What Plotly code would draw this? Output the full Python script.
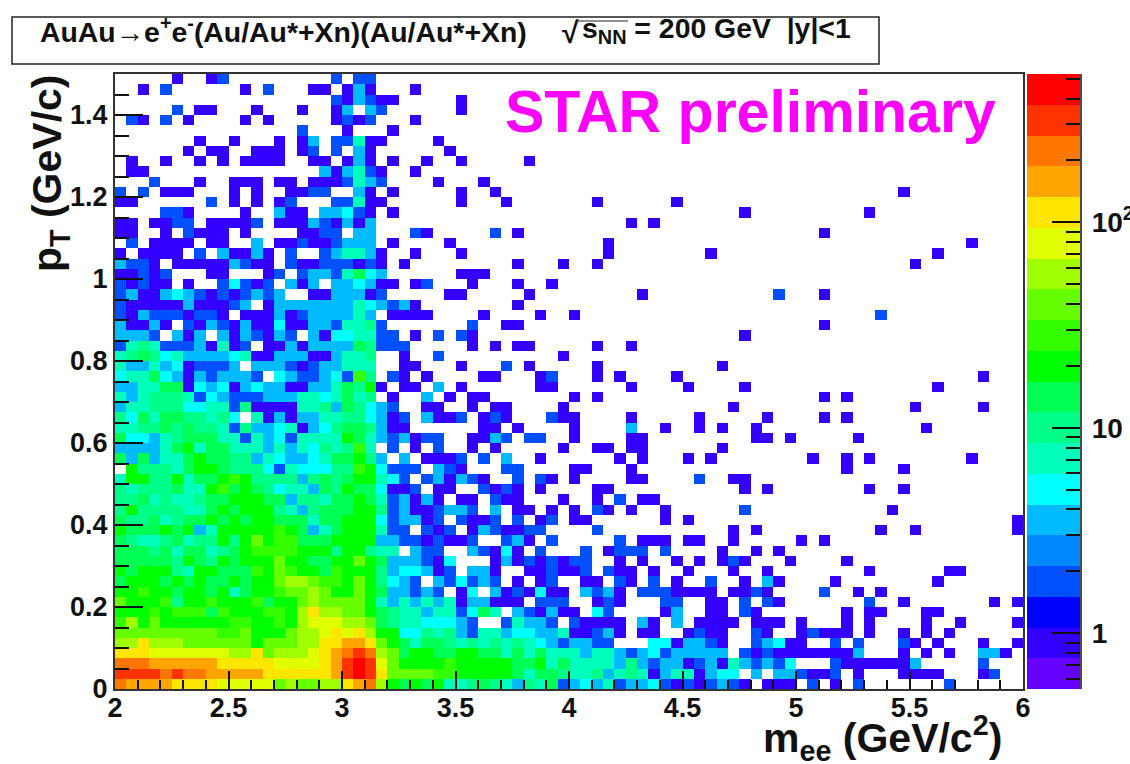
import math
import numpy as np
import plotly.graph_objects as go

# Histogram bins
N_X, N_Y = 80, 60
X_LOW, X_HIGH = 2.0, 6.0
Y_LOW, Y_HIGH = 0.0, 1.5

# Read-off counts per cell: code -> estimated count
CODE_COUNTS = {'1': 1, '2': 2, '3': 3.5, '4': 5, '5': 7, '6': 10, '7': 14, '8': 20, '9': 28,
               'a': 40, 'b': 56, 'c': 79, 'd': 112, 'e': 158, 'f': 224, 'g': 316, 'h': 447}

# One entry per pT row, top row first. "col:codes" runs; '.' means an empty cell.
ROWS = [
 "5:1 8:12 19:2 21:22",
 "2:1 4:2 11:1 13:2 17:11 20:131 26:1",
 "19:213211 30:1",
 "5:2 7:11 12:1 16:1 19:13.32 30:1",
 "1:21 4:2 6:1 11:1 13:1 19:1212 26:1",
 "16:2 20:1 24:1",
 "7:1 10:1 14:1 16:13 19:22511 28:1",
 "6:1 8:11 12:111 16:12 19:2.31 29:1",
 "1:1 4:1 7:1 9:1 11:1111 17:11 20:131 24:1 27:1 30:1 36:1",
 "1:11 18:313521 26:1",
 "3:2 7:1 10:111 14:11 17:111 20:2532 28:1 32:1",
 "0:2 2:2 4:111 10:1 12:1 15:11 17:22 21:31 24:1 30:1 33:1 69:1",
 "0:11 8:2 10:1 12:1 14:12 19:22511 30:1 34:1 42:1 49:1",
 "4:221 11:1 14:311 18:33421 24:1 55:1 66:1",
 "0:11 3:1122 8:11112 14:111321313 45:1 47:1",
 "0:11 4:1 6:2111 11:1 16:1122 21:33 26:21 33:2 35:1 62:1",
 "1:2 3:1111 8:11 12:3 14:112112333 24:1 29:1 43:1 75:1",
 "0:1 2:1111 7:2 9:31131 15:2 18:235531 26:1 30:1 43:1 52:1 72:1",
 "0:3221 5:11111 10:3211 15:211222121 25:1 35:1 39:1 42:1 70:1",
 "0:11212 8:11 13:12 16:23325743 30:111",
 "0:21211.1..2 10:4212.313.3 20:34311. 26:12 31:1 35:1 38:1",
 "0:2311343212 10:12323..113 20:3312.. 29:11 36:1 46:1 58:2 62:1",
 "0:2111113111 10:23.1333333 20:354323 26:1 35:1",
 "0:2132221221 10:.111312333 20:353.11 26:11 32:1 37:1 40:1 67:2",
 "0:31131.2132 10:1311411332 20:5562.. 31:2 34:11 62:1",
 "0:3332.313.3 10:132132.314 20:45522. 26:1 28:2 30:21 55:1",
 "0:2565222315 10:12.1131333 20:376222 31:1 33:1 35:11 42:1 45:1",
 "0:5676453333 10:4511333113 20:556..1 28:2 39:1",
 "0:5335341222 10:3.33321233 20:555..1 26:1 30:1 34:2 36:1 42:1 53:1",
 "0:4557431323 10:332.432234 20:296.21 27:1 32:11 37:12 42:1 44:1 49:1 76:1",
 "0:3355771434 10:1343311335 20:7681.1 26:1 28:3 30:1 37:11 45:1 50:1 55:1 72:1",
 "0:5356665243 10:2223335545 20:756.1. 27:3 29:1 31:11 40:1 42:1 62:1 64:1",
 "0:3556664455 10:2611115563 20:76432. 27:11 31:1 33:11 39:1 54:1 70:1 76:1",
 "0:6475776656 10:4.51313355 20:664312 27:3112 32:121 38:211 45:1 51:1 57:1 62:1 64:1",
 "0:5566767665 10:2633451346 20:776311 32:11 35:1 40:1 45:3 48:1 51:1 53:1 56:1 71:1",
 "0:7443567775 10:5253425555 20:875323 26:122 31:11 33:32 36:22 40:1 45:11 56:11 59:1 65:1",
 "0:3333578577 10:5553535465 20:695.2. 26:1 28:2 31:1 33:1 39:1 42:11 45:11 53:1",
 "0:7373557877 10:6635433457 20:7863.3 27:1112 32:2 34:3 37:1 44:1 46:1 50:1 52:1 61:1 64:1 66:1 75:1",
 "0:.866657887 10:6664254446 20:698422 26:2 28:321 34:22 40:11 45:1 64:1 69:1",
 "0:5886685778 10:9866663676 20:788542 27:231321 35:2 37:21 40:1 45:11 51:2 54:11",
 "0:6566675589 10:7876455376 20:877411 26:2 28:11 32:2121 37:1 42:11 55:1 57:1 66:1 69:1",
 "0:6675655677 10:8887736657 20:787523 26:13 28:1 30:11 33:211 39:1 42:1 44:2 46:11",
 "0:6866665578 10:7888653677 20:788623 26:112332 33:3 35:11 38:1 40:1 42:21 45:1 48:1 55:2 68:1",
 "0:7667567787 10:8788777577 20:888423 26:312.2112.2.12 40:11 48:1 50:1 79:1",
 "0:8777878358 10:8888987357 20:888522 27:212.1321122 42:2 54:1 56:1 67:1 70:1 79:1",
 "0:7655675668 10:68a8997778 20:888332 26:212112 34:231 38:2 44:2 46:111 50:11 54:1 60:1 62:1",
 "0:7776757756 10:7899998886 20:88655. 26:322 31:321 34:41 37:2 41:2 43:1222 48:2 53:1 56:1 58:1",
 "0:7777768768 10:7888a88778 20:8a8733 26:3214 33:131212122 44:1 46:1 49:1 51:1 53:121 59:1 64:1",
 "0:8788865887 10:7798a98879 20:888634 26:4312 31:331 36:112112 43:211 47:1 50:1 54:1 57:1 66:1 73:11",
 "0:7888787877 10:8788abba99 20:8a8643 26:2 28:324232 35:1 37:12 41:11 44:21 47:2 49:1 52:2 55:1 57:31 63:1 72:1",
 "0:8898878878 10:57889aaba8 20:8a8733 26:232.14.3121411.3231.2221111 54:1121 62:2 65:1 67:1",
 "0:a888968898 10:889788abaa 20:aa8535 26:3535133111.222..121 48:22 52:1 53:1 55:2 57:21 66:2 69:1 77:1 79:1",
 "0:8889899979 10:888998bdbb 20:aa8765 26:53552475.321311.42 48:13 52:11 55:21 64:1 66:11 71:11",
 "0:9b8a888888 10:998898bccc 20:bba765 26:544432..25332.21111.31.3.1111 56:111 60:1 64:1 66:1 71:1 74:1 79:1",
 "0:aaaaaaaaa9 10:9a888abbcd 20:cdb884 26:4656325534433511231.11..1211 56:21 60:12111 66:1 69:1 71:1 73:1",
 "0:bbdbbbaaaa 10:aa8aaabbdd 20:eeda87 26:577656565654323322...4413321 56:23411 63:2 65:2 69:21 72:1 76:1 79:1",
 "0:dddccccccc 10:bbdabbbcde 20:fgfba7 26:8877887757 36:5755535532 46:34233333 55:212 58:1111111 65:3 69:1 71:1 73:1 76:331",
 "0:fffeeeeeed 10:ddddccccde 20:ghgca8 26:8889888887 36:7857555536 46:3233123153 56:2324 63:2 64:111111 70:3 76:2",
 "0:ggggfgffee 10:eeedddddde 20:ghgdaa 26:aa99888887 36:5776556356 46:513551344. 56:3.332112 65:1 69:1111 76:12",
 "0:feeeeddddc 10:ccccabaabb 20:defb87 26:8785567653 36:6572343523 46:3421212321 57:111 61:2 63:1 65:2 73:2",
]

# Colour bar
BAND_COLORS = ["#6600ff", "#3300ff", "#0000ff", "#0050ff", "#0088ff", "#00bbff", "#00ffff",
               "#00ffbb", "#00ff88", "#00ff55", "#00ff00", "#33ff00", "#66ff00", "#a0ff00",
               "#e0ff00", "#ffe600", "#ffa500", "#ff7700", "#ff3300", "#ff0000"]
LOG_Z_MIN, LOG_Z_MAX = -0.272, 2.722
CB_MINOR_COUNTS = [0.6, 0.7, 0.8, 0.9, 2, 3, 4, 5, 6, 7, 8, 9, 20, 30, 40, 50, 60, 70, 80, 90,
                   200, 300, 400, 500]
CB_MAJOR_COUNTS = [1, 10, 100]
CB_LABELS = ["\u20091", "\u200910", "\u200910<sup>2</sup>"]

X_TICKS = [2, 2.5, 3, 3.5, 4, 4.5, 5, 5.5, 6]
X_TICK_LABELS = ["2", "2.5", "3", "3.5", "4", "4.5", "5", "5.5", "6"]
Y_TICKS = [0, 0.2, 0.4, 0.6, 0.8, 1, 1.2, 1.4]
Y_TICK_LABELS = ["0", "0.2", "0.4", "0.6", "0.8", "1", "1.2", "1.4"]

W, H = 1130, 764
PX_L, PX_R, PX_T, PX_B = 115, 1023, 74, 689
FONT = "Liberation Sans"


def parse_row(spec):
    row = [None] * N_X
    for run in spec.split():
        start, codes = run.split(":")
        for k, c in enumerate(codes):
            if c != '.':
                row[int(start) + k] = CODE_COUNTS[c]
    return row


counts = [parse_row(r) for r in ROWS][::-1]
z = [[math.log10(v) if v else None for v in row] for row in counts]
x_edges = np.linspace(X_LOW, X_HIGH, N_X + 1)
y_edges = np.linspace(Y_LOW, Y_HIGH, N_Y + 1)

n = len(BAND_COLORS)
colorscale = []
for i, c in enumerate(BAND_COLORS):
    colorscale += [[i / n, c], [(i + 1) / n, c]]

dom_y = [1 - PX_B / H, 1 - PX_T / H]

cb_base = dict(
    x=1027 / W, xanchor="left", xpad=0, y=dom_y[0], yanchor="bottom", ypad=0,
    len=dom_y[1] - dom_y[0], lenmode="fraction", thickness=53, thicknessmode="pixels",
    outlinewidth=0, borderwidth=0, tickmode="array", ticks="inside",
    tickwidth=1.5, tickcolor="#111111",
)

fig = go.Figure(go.Heatmap(
    x=x_edges, y=y_edges, z=z, zmin=LOG_Z_MIN, zmax=LOG_Z_MAX,
    colorscale=colorscale, hoverongaps=False,
    colorbar=dict(cb_base, tickvals=[math.log10(v) for v in CB_MAJOR_COUNTS],
                  ticktext=CB_LABELS, ticklen=28,
                  tickfont=dict(family=FONT, size=28, color="#111111", weight=700)),
))
# A see-through second colour bar carries the short minor ticks of the log scale.
fig.add_trace(go.Heatmap(
    x=x_edges[:2], y=y_edges[:2], z=[[LOG_Z_MIN]], zmin=LOG_Z_MIN, zmax=LOG_Z_MAX,
    colorscale=[[0, "rgba(0,0,0,0)"], [1, "rgba(0,0,0,0)"]], hoverinfo="skip",
    colorbar=dict(cb_base, tickvals=[math.log10(v) for v in CB_MINOR_COUNTS],
                  ticklen=14, showticklabels=False),
))

axis_font = dict(family=FONT, size=27, color="#111111", weight=700)
frame = dict(showline=True, linecolor="#333333", linewidth=2, mirror=True, showgrid=False,
             zeroline=False, ticks="inside", tickcolor="#111111", tickwidth=2, tickfont=axis_font,
             tickmode="array")

fig.update_layout(
    width=W, height=H, margin=dict(l=0, r=0, t=0, b=0, pad=0, autoexpand=False),
    paper_bgcolor="white", plot_bgcolor="white", showlegend=False,
    xaxis=dict(frame, domain=[PX_L / W, PX_R / W], range=[X_LOW, X_HIGH],
               tickvals=X_TICKS, ticktext=X_TICK_LABELS, ticklen=18, ticklabelstandoff=-6,
               minor=dict(ticks="inside", ticklen=9, dtick=0.1, tick0=2, tickcolor="#111111", tickwidth=2, showgrid=False)),
    yaxis=dict(frame, domain=dom_y, range=[Y_LOW, Y_HIGH],
               tickvals=Y_TICKS, ticktext=Y_TICK_LABELS, ticklen=28,
               minor=dict(ticks="inside", ticklen=14, dtick=0.05, tick0=0, tickcolor="#111111", tickwidth=2, showgrid=False)),
)

shapes = [
    dict(type="rect", xref="paper", yref="paper", x0=12 / W, x1=879 / W, y0=1 - 64 / H, y1=1 - 17 / H,
         line=dict(color="#222222", width=1.5), fillcolor="white"),
    dict(type="line", xref="paper", yref="paper", x0=1081 / W, x1=1081 / W, y0=dom_y[0], y1=dom_y[1],
         line=dict(color="#111111", width=1.5)),
    dict(type="line", xref="paper", yref="paper", x0=576 / W, x1=628 / W, y0=1 - 21 / H, y1=1 - 21 / H,
         line=dict(color="#222222", width=1.2)),
]
fig.update_layout(shapes=shapes)


def note(text, px, py, size, color="#111111", xanchor="center", angle=0):
    fig.add_annotation(text=text, xref="paper", yref="paper", x=px / W, y=1 - py / H, showarrow=False,
                       xanchor=xanchor, yanchor="middle", textangle=angle,
                       font=dict(family=FONT, size=size, color=color, weight=700))


note("AuAu\u2192e<sup>+</sup>e<sup>-</sup>(Au/Au*+Xn)(Au/Au*+Xn)", 38, 30, 28.4, xanchor="left")
note("\u221a", 560, 33, 30, xanchor="left")
note("s<sub>NN</sub> = 200 GeV  |y|&lt;1", 580, 30, 28.4, xanchor="left")
note("STAR preliminary", 750, 112, 59, color="#ff00ff")
note("m<sub>ee</sub> (GeV/c<sup>2</sup>)", 1004, 738, 41, xanchor="right")
note("p<sub>T</sub> (GeV/c)", 50, 173, 41, angle=-90)

fig.write_html("out.html", config=dict(displayModeBar=False),
               post_script="document.body.style.margin='0';")
